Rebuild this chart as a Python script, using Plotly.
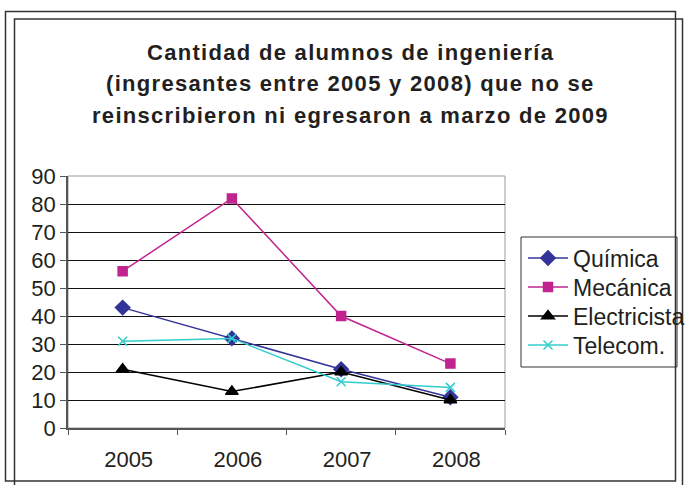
import plotly.graph_objects as go

years = ["2005", "2006", "2007", "2008"]
quimica = [43, 32, 21, 11]
mecanica = [56, 82, 40, 23]
electricista = [21, 13, 20, 10]
telecom = [31, 32, 16.5, 14.5]

title_lines = [
    "Cantidad de alumnos de ingeniería",
    "(ingresantes entre 2005 y 2008) que no se",
    "reinscribieron ni egresaron a marzo de 2009",
]

W, H = 687, 485
L, R, T, B = 68, 505, 176, 428


def px(x):
    return (x - L) / (R - L)


def py(y):
    return (B - y) / (B - T)


fig = go.Figure()
series = [
    ("Química", quimica, "#333399", "diamond", 11),
    ("Mecánica", mecanica, "#C0248F", "square", 9),
    ("Electricista", electricista, "#000000", "triangle-up", 11),
    ("Telecom.", telecom, "#33CCCC", "x-thin", 9),
]
legend_ids = ["legend", "legend2", "legend3", "legend4"]
for (name, vals, col, sym, sz), lg in zip(series, legend_ids):
    fig.add_trace(go.Scatter(
        x=years, y=vals, name=name, mode="lines+markers", legend=lg,
        line=dict(color=col, width=1.5),
        marker=dict(symbol=sym, size=sz, color=col, line=dict(color=col, width=1.5)),
    ))

shapes = [
    dict(type="rect", xref="paper", yref="paper", x0=0, x1=1, y0=0, y1=1,
         line=dict(color="#999999", width=1), layer="below"),
    dict(type="rect", xref="paper", yref="paper", x0=px(5.5), x1=px(675.5), y0=py(481), y1=py(11.5),
         line=dict(color="#333333", width=1.5)),
    dict(type="rect", xref="paper", yref="paper", x0=px(14.5), x1=px(682.5), y0=py(490), y1=py(19),
         line=dict(color="#333333", width=1.5)),
    dict(type="rect", xref="paper", yref="paper", x0=px(521), x1=px(677), y0=py(367), y1=py(237),
         line=dict(color="#333333", width=1)),
]

annotations = []
for i, t in enumerate(title_lines):
    annotations.append(dict(
        text="<span style='letter-spacing:1.3px'><b>" + t + "</b></span>",
        xref="paper", yref="paper",
        x=px(350), y=py(52 + 32 * i), xanchor="center", yanchor="middle",
        showarrow=False, font=dict(family="Liberation Sans, Arial", size=22, color="#231F20"),
    ))

legend_layout = {}
for i, lg in enumerate(legend_ids):
    legend_layout[lg] = dict(
        x=px(523), y=py(258 + 29 * i), xanchor="left", yanchor="middle",
        font=dict(size=23, color="#231F20"), bgcolor="rgba(0,0,0,0)",
        borderwidth=0, itemwidth=40,
    )

fig.update_layout(
    width=W, height=H,
    margin=dict(l=L, r=W - R, t=T, b=H - B, pad=0, autoexpand=False),
    paper_bgcolor="white", plot_bgcolor="white",
    font=dict(family="Liberation Sans, Arial", color="#231F20"),
    showlegend=True,
    shapes=shapes,
    annotations=annotations,
    **legend_layout,
)
fig.update_xaxes(
    type="category", range=[-0.5, 3.5], tickson="boundaries",
    showline=True, linecolor="#555555", linewidth=1.5,
    ticks="outside", ticklen=5, tickcolor="#555555", tickwidth=1,
    showgrid=False, tickfont=dict(size=22),
    ticklabelstandoff=11, ticklabelshift=6,
)
fig.update_yaxes(
    range=[0, 90], tickvals=list(range(0, 91, 10)),
    showline=True, linecolor="#555555", linewidth=1.5,
    ticks="outside", ticklen=6, tickcolor="#555555", tickwidth=1,
    showgrid=True, gridcolor="#111111", gridwidth=1,
    zeroline=False, tickfont=dict(size=22),
)

fig.write_html("out.html", config={"displayModeBar": False},
               post_script="document.body.style.margin='0';")
